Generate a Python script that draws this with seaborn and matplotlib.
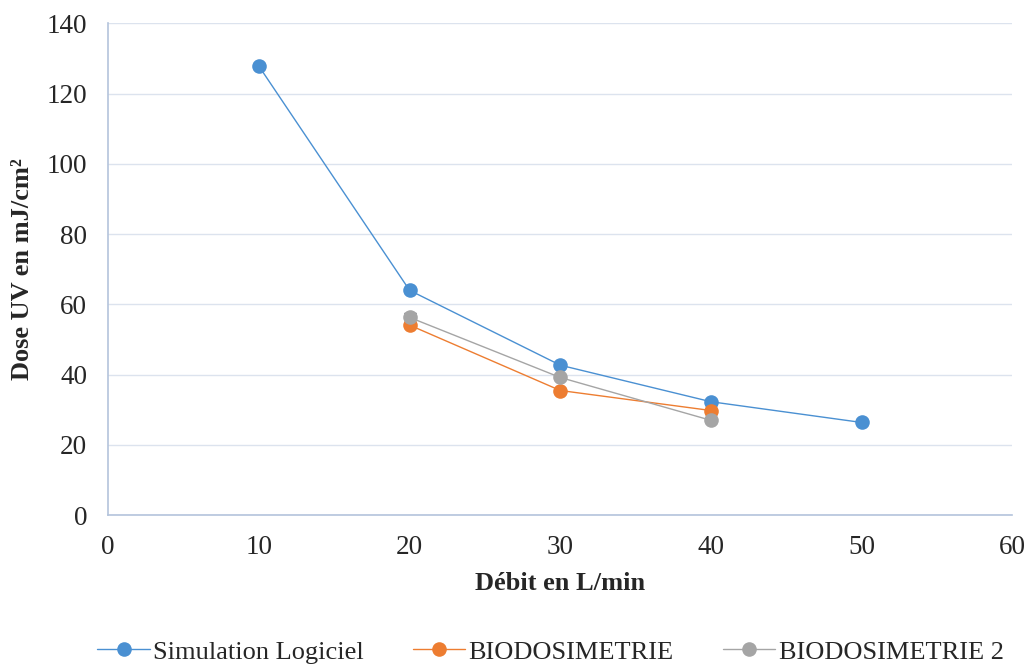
import pandas as pd
import numpy as np
import matplotlib.pyplot as plt
import seaborn as sns

debit_sim = [10, 20, 30, 40, 50]
dose_sim = [127.8, 64.0, 42.7, 32.3, 26.4]
debit_bio = [20, 30, 40]
dose_bio = [54.1, 35.5, 29.8]
dose_bio2 = [56.3, 39.2, 27.0]
series = ['Simulation Logiciel', 'BIODOSIMETRIE', 'BIODOSIMETRIE 2']
colors = ['#4A90D2', '#ED7D31', '#A5A5A5']

df = pd.concat([
    pd.DataFrame({'debit': debit_sim, 'dose': dose_sim, 'serie': series[0]}),
    pd.DataFrame({'debit': debit_bio, 'dose': dose_bio, 'serie': series[1]}),
    pd.DataFrame({'debit': debit_bio, 'dose': dose_bio2, 'serie': series[2]}),
])

sns.set_style('white')
plt.rcParams['font.family'] = ['Liberation Serif', 'DejaVu Serif']

fig = plt.figure(figsize=(10.3, 6.64), dpi=100)
ax = fig.add_axes([0.105, 0.224, 0.878, 0.741])

sns.lineplot(data=df, x='debit', y='dose', hue='serie', hue_order=series,
             palette=colors, marker='o', markersize=10.5, markeredgewidth=0,
             linewidth=1, ax=ax, legend=True)

# petite barre d'erreur sur le point à 20 L/min
ax.errorbar([20], [dose_bio2[0]], yerr=[[0], [1.2]], fmt='none',
            ecolor='#333344', elinewidth=1, capsize=4, zorder=1)

ax.set_xlim(0, 60)
ax.set_ylim(0, 140)
ax.set_xticks(range(0, 61, 10))
ax.set_yticks(range(0, 141, 20))
ax.yaxis.grid(True, color='#DCE3EE', linewidth=1)
ax.set_axisbelow(True)
for s in ['top', 'right']:
    ax.spines[s].set_visible(False)
for s in ['left', 'bottom']:
    ax.spines[s].set_color('#B4C4DC')
    ax.spines[s].set_linewidth(1.2)
ax.tick_params(axis='both', labelsize=19.5, length=0)
ax.tick_params(axis='y', pad=15)
ax.tick_params(axis='x', pad=14)
ax.set_xlabel('Débit en L/min', fontsize=19, fontweight='bold', labelpad=9)
ax.set_ylabel('Dose UV en mJ/cm²', fontsize=19, fontweight='bold', labelpad=9)

handles, labels = ax.get_legend_handles_labels()
ax.legend(handles, labels, loc='lower center', bbox_to_anchor=(0.489, -0.35),
          ncol=3, frameon=False, fontsize=19, handlelength=2.0,
          columnspacing=1.85, handletextpad=0.12)

fig.savefig('out.png', dpi=100)
